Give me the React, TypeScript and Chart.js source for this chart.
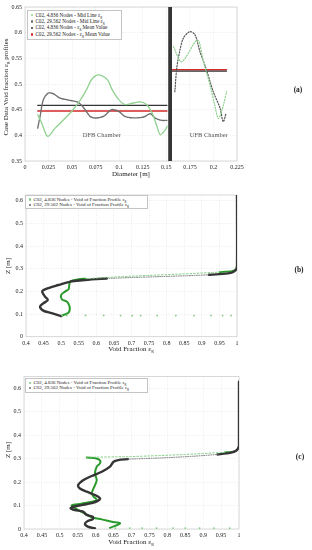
import React, { useEffect, useRef } from 'react';
import { Chart, registerables } from 'chart.js';
Chart.register(...registerables);

type P = [number, number];

const SERIF = '"Liberation Serif", "DejaVu Serif", serif';

// ---------- Panel (a) ----------
const A_GREEN_DFB: P[] = [
  [0.0135, 0.44], [0.0177, 0.424], [0.024, 0.398], [0.032, 0.414], [0.041, 0.4305], [0.0496, 0.447],
  [0.0585, 0.468], [0.0656, 0.49], [0.07, 0.507], [0.0755, 0.517], [0.082, 0.516], [0.088, 0.507],
  [0.0922, 0.49], [0.0993, 0.47], [0.1064, 0.46], [0.115, 0.463], [0.122, 0.465], [0.129, 0.46],
  [0.135, 0.4435], [0.14, 0.4175], [0.1436, 0.401], [0.149, 0.411], [0.1507, 0.4175],
];
const A_GRAY_DFB: P[] = [
  [0.0135, 0.414], [0.016, 0.437], [0.0195, 0.4695], [0.0248, 0.4825], [0.03, 0.481], [0.037, 0.4727],
  [0.048, 0.468], [0.0567, 0.464], [0.0638, 0.45], [0.069, 0.437], [0.0745, 0.4338], [0.0833, 0.437],
  [0.092, 0.45], [0.0993, 0.4468], [0.106, 0.437], [0.115, 0.434], [0.126, 0.4357], [0.133, 0.442],
  [0.138, 0.4338], [0.145, 0.4292], [0.1507, 0.4292],
];
const A_GREEN_UFB: P[] = [
  [0.1575, 0.5727], [0.1663, 0.5435], [0.183, 0.5857], [0.1893, 0.5435], [0.1964, 0.498],
  [0.2017, 0.456], [0.2052, 0.433], [0.2095, 0.452], [0.214, 0.485],
];
const A_GRAY_UFB: P[] = [
  [0.159, 0.485], [0.161, 0.53], [0.163, 0.553], [0.168, 0.589], [0.175, 0.602], [0.1805, 0.5955],
  [0.1857, 0.563], [0.1927, 0.527], [0.1998, 0.485], [0.207, 0.453], [0.2104, 0.4266], [0.2134, 0.443],
];
const A_MEAN_BLACK_DFB: P[] = [[0.0135, 0.4584], [0.1507, 0.4584]];
const A_MEAN_RED_DFB: P[] = [[0.0135, 0.4474], [0.1507, 0.4474]];
const A_MEAN_BLACK_UFB: P[] = [[0.1564, 0.5252], [0.2139, 0.5252]];
const A_MEAN_RED_UFB: P[] = [[0.1564, 0.5278], [0.2139, 0.5278]];
const A_WALL: number[] = [0.152, 0.156];
const A_CHAMBER_LABELS: string[] = ['DFB Chamber', 'UFB Chamber'];
const A_CHAMBER_POS: P[] = [[0.0815, 0.4], [0.195, 0.4]];
const A_LEGEND: string[] = [
  'C02, 4.836 Nodes - Mid Line ε_g',
  'C02, 29.562 Nodes - Mid Line ε_g',
  'C02, 4.836 Nodes - ε_g Mean Value',
  'C02, 29.562 Nodes - ε_g Mean Value',
];

// ---------- Panel (b) ----------
const B_BLACK_LOW: P[] = [
  [0.5, 0.091], [0.473, 0.104], [0.449, 0.115], [0.44, 0.133], [0.449, 0.147], [0.462, 0.162],
  [0.454, 0.177], [0.446, 0.199], [0.454, 0.209], [0.492, 0.228], [0.526, 0.243], [0.56, 0.249],
  [0.6, 0.254], [0.63, 0.257],
];
const B_BLACK_MID: P[] = [[0.63, 0.257], [0.7, 0.261], [0.78, 0.265], [0.86, 0.269], [0.92, 0.273]];
const B_BLACK_HIGH: P[] = [[0.92, 0.273], [0.96, 0.277], [0.985, 0.283], [0.996, 0.293], [1, 0.31], [1, 0.63]];
const B_GREEN_BOTTOM: P[] = [
  [0.502, 0.094], [0.516, 0.094], [0.569, 0.094], [0.621, 0.094], [0.669, 0.093], [0.702, 0.093],
  [0.726, 0.093], [0.773, 0.093], [0.826, 0.093], [0.878, 0.093], [0.926, 0.093], [0.959, 0.093], [0.983, 0.093],
];
const B_GREEN_LOW: P[] = [
  [0.502, 0.093], [0.521, 0.106], [0.524, 0.133], [0.516, 0.155], [0.502, 0.165], [0.5, 0.184],
  [0.511, 0.199], [0.521, 0.209], [0.523, 0.228], [0.526, 0.243], [0.55, 0.253], [0.57, 0.256],
];
const B_GREEN_MID: P[] = [[0.57, 0.256], [0.7, 0.267], [0.85, 0.277], [0.95, 0.285]];
const B_GREEN_HIGH: P[] = [[0.95, 0.285], [0.985, 0.29], [0.997, 0.298], [1, 0.315]];
const BC_LEGEND: string[] = [
  'C02, 4.836 Nodes - Void of Fraction Profile ε_g',
  'C02, 29.562 Nodes - Void of Fraction Profile ε_g',
];

// ---------- Panel (c) ----------
const C_BLACK_LOW: P[] = [
  [0.598, 0.003], [0.578, 0.01], [0.57, 0.022], [0.578, 0.034], [0.592, 0.042], [0.592, 0.052],
  [0.575, 0.06], [0.565, 0.074], [0.542, 0.081], [0.53, 0.088], [0.537, 0.095], [0.561, 0.102],
  [0.589, 0.11], [0.607, 0.121], [0.612, 0.131], [0.598, 0.145], [0.575, 0.159], [0.556, 0.173],
  [0.551, 0.187], [0.565, 0.208], [0.589, 0.226], [0.617, 0.244], [0.64, 0.266], [0.65, 0.287],
  [0.663, 0.294], [0.69, 0.298],
];
const C_BLACK_MID: P[] = [[0.69, 0.298], [0.78, 0.303], [0.87, 0.31], [0.94, 0.318]];
const C_BLACK_HIGH: P[] = [[0.94, 0.318], [0.975, 0.325], [0.993, 0.335], [1, 0.355], [1, 0.628]];
const C_GREEN_BOTTOM: P[] = [
  [0.655, 0.004], [0.695, 0.004], [0.73, 0.004], [0.77, 0.004], [0.816, 0.004], [0.85, 0.004],
  [0.89, 0.004], [0.93, 0.004], [0.974, 0.004],
];
const C_GREEN_LOW: P[] = [
  [0.64, 0.005], [0.668, 0.024], [0.645, 0.031], [0.617, 0.041], [0.589, 0.05], [0.565, 0.07],
  [0.533, 0.1], [0.56, 0.108], [0.589, 0.116], [0.603, 0.124], [0.594, 0.138], [0.589, 0.152],
  [0.594, 0.173], [0.603, 0.208], [0.598, 0.237], [0.603, 0.266], [0.612, 0.28], [0.612, 0.293],
  [0.6, 0.302], [0.575, 0.305],
];
const C_GREEN_MID: P[] = [[0.575, 0.306], [0.7, 0.309], [0.85, 0.318], [0.96, 0.327]];
const C_GREEN_HIGH: P[] = [[0.96, 0.327], [0.99, 0.332], [1, 0.345]];

// ---------- helpers ----------
const pts = (a: P[]) => a.map(([x, y]) => ({ x, y }));
const line = (a: P[], color: string, width: number, dash: number[] = [], tension = 0.3) => ({
  data: pts(a), showLine: true, borderColor: color, borderWidth: width, borderDash: dash,
  pointRadius: 0, tension, fill: false, borderCapStyle: 'round' as const, borderJoinStyle: 'round' as const,
});
const dots = (a: P[], color: string, r: number) => ({
  data: pts(a), showLine: false, pointRadius: r, pointBackgroundColor: color, pointBorderWidth: 0,
  borderColor: color, backgroundColor: color,
});
const fmt = (v: any) => String(Number(Number(v).toFixed(4)));

const framePlugin = {
  id: 'frame',
  beforeDatasetsDraw(chart: any) {
    const { ctx, chartArea: c } = chart;
    ctx.save();
    ctx.strokeStyle = '#cfcfcf';
    ctx.lineWidth = 0.8;
    ctx.strokeRect(c.left, c.top, c.right - c.left, c.bottom - c.top);
    ctx.restore();
  },
};

const wallPlugin = {
  id: 'wall',
  afterDatasetsDraw(chart: any) {
    const { ctx, chartArea: c, scales } = chart;
    const x = scales.x, y = scales.y;
    ctx.save();
    ctx.fillStyle = '#353535';
    const x0 = x.getPixelForValue(A_WALL[0]);
    const x1 = x.getPixelForValue(A_WALL[1]);
    ctx.fillRect(x0, c.top, x1 - x0, c.bottom - c.top);
    ctx.font = `6.5px ${SERIF}`;
    ctx.fillStyle = '#555';
    ctx.textAlign = 'center';
    ctx.textBaseline = 'middle';
    A_CHAMBER_LABELS.forEach((t, i) =>
      ctx.fillText(t, x.getPixelForValue(A_CHAMBER_POS[i][0]), y.getPixelForValue(A_CHAMBER_POS[i][1])));
    ctx.restore();
  },
};

type Spec = {
  width: number; height: number;
  plot: { left: number; right: number; top: number; bottom: number };
  yW: number; xH: number;
  x: [number, number, number]; y: [number, number, number];
  datasets: any[]; plugins: any[];
};

function makeScale(min: number, max: number, step: number, fit: (s: any) => void) {
  return {
    type: 'linear' as const, min, max,
    afterFit: fit,
    ticks: {
      stepSize: step, callback: fmt, autoSkip: false, maxRotation: 0, includeBounds: false,
      font: { family: SERIF, size: 6 }, color: '#222', padding: 3,
    },
    grid: { color: 'rgba(0,0,0,0.12)', lineWidth: 0.6, drawTicks: false },
    border: { display: false, dash: [1, 1.5] },
  };
}

function ChartBox({ top, spec }: { top: number; spec: Spec }) {
  const ref = useRef<HTMLCanvasElement | null>(null);
  useEffect(() => {
    if (!ref.current) return;
    const { width, height, plot, yW, xH } = spec;
    const chart = new Chart(ref.current, {
      type: 'scatter',
      data: { datasets: spec.datasets },
      options: {
        animation: false, responsive: false, maintainAspectRatio: false, devicePixelRatio: 1,
        layout: {
          padding: { left: plot.left - yW, top: plot.top, right: width - plot.right, bottom: height - plot.bottom - xH },
        },
        plugins: { legend: { display: false }, tooltip: { enabled: false } },
        scales: {
          x: makeScale(spec.x[0], spec.x[1], spec.x[2], (s: any) => { s.height = xH; }),
          y: makeScale(spec.y[0], spec.y[1], spec.y[2], (s: any) => { s.width = yW; }),
        },
      } as any,
      plugins: [framePlugin, ...spec.plugins],
    });
    return () => chart.destroy();
  }, []);
  return (
    <canvas ref={ref} width={spec.width} height={spec.height}
      style={{ position: 'absolute', left: 0, top, width: spec.width, height: spec.height }} />
  );
}

function Eps({ s }: { s: string }) {
  const parts = s.split('ε_g');
  const out: any[] = [];
  parts.forEach((p, i) => {
    out.push(<span key={'t' + i}>{p}</span>);
    if (i < parts.length - 1)
      out.push(<span key={'e' + i}>ε<span style={{ fontSize: '0.7em', position: 'relative', top: '0.3em' }}>g</span></span>);
  });
  return <>{out}</>;
}

function Legend({ left, top, width, rowH, items, colors, fontSize }:
  { left: number; top: number; width: number; rowH: number; items: string[]; colors: string[]; fontSize: number }) {
  return (
    <div style={{
      position: 'absolute', left, top, width, border: '0.7px solid #c4c4c4', background: '#fff',
      padding: '1px 0', fontFamily: SERIF, fontSize, color: '#222', whiteSpace: 'nowrap', boxSizing: 'border-box',
    }}>
      {items.map((t, i) => (
        <div key={i} style={{ height: rowH, lineHeight: rowH + 'px', display: 'flex', alignItems: 'center' }}>
          <span style={{ display: 'inline-block', width: 2.4, height: 2.4, borderRadius: '50%', background: colors[i], margin: '0 2px 0 3px' }} />
          <span><Eps s={t} /></span>
        </div>
      ))}
    </div>
  );
}

function Txt({ cx, cy, size, rot, bold, children }: { cx: number; cy: number; size: number; rot?: boolean; bold?: boolean; children: any }) {
  return (
    <div style={{
      position: 'absolute', left: cx, top: cy, whiteSpace: 'nowrap', fontFamily: SERIF, fontSize: size,
      fontWeight: bold ? 'bold' : 'normal', color: '#222', lineHeight: 1,
      transform: `translate(-50%, -50%)${rot ? ' rotate(-90deg)' : ''}`,
    }}>{children}</div>
  );
}

const GREEN_A = '#8fd28f';
const GRAY_A = '#707070';
const BLACK = '#353535';
const RED = '#d42a2a';
const GREEN_D = '#2a9a2a';
const GREEN_L = '#7fcb7f';
const GRAY_D = '#6a6a6a';

const specA: Spec = {
  width: 312, height: 180, plot: { left: 25, right: 237, top: 7, bottom: 161 }, yW: 25, xH: 12,
  x: [0, 0.225, 0.025], y: [0.35, 0.65, 0.05],
  datasets: [
    line(A_GREEN_DFB, GREEN_A, 1.3),
    line(A_GRAY_DFB, GRAY_A, 1.4, [1.4, 0.8]),
    line(A_GREEN_UFB, GREEN_A, 1.2, [1.2, 1.6]),
    line(A_GRAY_UFB, '#555', 1.2, [1.2, 1.6]),
    line(A_MEAN_BLACK_DFB, BLACK, 1.3, [], 0),
    line(A_MEAN_RED_DFB, RED, 1.3, [], 0),
    line(A_MEAN_BLACK_UFB, BLACK, 1.3, [], 0),
    line(A_MEAN_RED_UFB, RED, 1.3, [], 0),
  ],
  plugins: [wallPlugin],
};

const specB: Spec = {
  width: 312, height: 175, plot: { left: 26, right: 237, top: 15, bottom: 156.7 }, yW: 26, xH: 12,
  x: [0.4, 1, 0.05], y: [0, 0.625, 0.1],
  datasets: [
    dots(B_GREEN_BOTTOM, GREEN_L, 0.9),
    line(B_GREEN_MID, GREEN_L, 1, [1.6, 2]),
    line(B_BLACK_MID, GRAY_D, 0.9, [0.9, 1.4]),
    line(B_BLACK_LOW, BLACK, 2.4),
    line(B_BLACK_HIGH, BLACK, 2.4, [], 0.2),
    line(B_GREEN_LOW, GREEN_D, 2, [], 0.3),
    line(B_GREEN_HIGH, GREEN_D, 1.6, [], 0.2),
  ],
  plugins: [],
};

const specC: Spec = {
  width: 312, height: 195, plot: { left: 24, right: 239, top: 21.6, bottom: 174 }, yW: 24, xH: 12,
  x: [0.4, 1, 0.05], y: [0, 0.65, 0.1],
  datasets: [
    dots(C_GREEN_BOTTOM, GREEN_L, 0.9),
    line(C_GREEN_MID, GREEN_L, 1, [1.6, 2]),
    line(C_BLACK_MID, GRAY_D, 0.9, [0.9, 1.4]),
    line(C_BLACK_LOW, BLACK, 2.4),
    line(C_BLACK_HIGH, BLACK, 2.4, [], 0.2),
    line(C_GREEN_LOW, GREEN_D, 2, [], 0.3),
    line(C_GREEN_HIGH, GREEN_D, 1.6, [], 0.2),
  ],
  plugins: [],
};

export default function App() {
  return (
    <div style={{ position: 'absolute', left: 0, top: 0, width: 312, height: 550, background: '#fff', overflow: 'hidden' }}>
      <ChartBox top={0} spec={specA} />
      <ChartBox top={180} spec={specB} />
      <ChartBox top={355} spec={specC} />

      <Legend left={27} top={10} width={95} rowH={6.4} fontSize={5.2} items={A_LEGEND}
        colors={[GREEN_A, GRAY_A, BLACK, RED]} />
      <Legend left={25} top={195} width={123} rowH={5.2} fontSize={5} items={BC_LEGEND}
        colors={[GREEN_L, GRAY_D]} />
      <Legend left={25} top={378} width={123} rowH={5.4} fontSize={5} items={BC_LEGEND}
        colors={[GREEN_L, GRAY_D]} />

      <Txt cx={131} cy={174} size={7}>Diameter [m]</Txt>
      <Txt cx={131} cy={349} size={7}><Eps s="Void Fraction ε_g" /></Txt>
      <Txt cx={131} cy={542} size={7}><Eps s="Void Fraction ε_g" /></Txt>
      <Txt cx={6} cy={87} size={7} rot><Eps s="Case Data Void fraction ε_g profiles" /></Txt>
      <Txt cx={8} cy={266} size={7} rot>Z [m]</Txt>
      <Txt cx={8} cy={450} size={7} rot>Z [m]</Txt>

      <Txt cx={298} cy={90} size={7.5} bold>(a)</Txt>
      <Txt cx={299} cy={270} size={7.5} bold>(b)</Txt>
      <Txt cx={300} cy={457} size={7.5} bold>(c)</Txt>
    </div>
  );
}
